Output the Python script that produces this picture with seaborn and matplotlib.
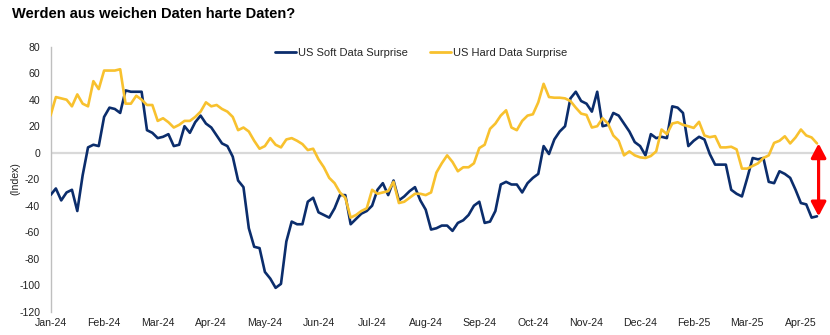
import numpy as np
import pandas as pd
import matplotlib
matplotlib.use("Agg")
import matplotlib.pyplot as plt
import seaborn as sns

# Surprise indices, sampled at a fixed step (10 samples between month labels)
soft_surprise = [
    -32, -27, -36, -30, -28, -44, -17, 4, 6, 5,
    27, 34, 33, 30, 47, 46, 46, 46, 17, 15,
    11, 12, 14, 5, 6, 20, 15, 23, 28, 22,
    19, 13, 7, 5, -3, -21, -26, -57, -71, -72,
    -90, -95, -102, -99, -67, -52, -54, -54, -37, -34,
    -45, -47, -49, -42, -32, -32, -54, -50, -46, -44,
    -40, -28, -23, -32, -21, -36, -33, -29, -26, -36,
    -43, -58, -57, -55, -55, -59, -53, -51, -47, -40,
    -37, -53, -52, -44, -24, -22, -24, -24, -30, -23,
    -19, -16, 5, -1, 10, 16, 20, 41, 46, 39,
    37, 31, 46, 20, 21, 30, 28, 22, 16, 8,
    5, -2, 14, 11, 12, 11, 35, 34, 30, 5,
    9, 12, 10, -1, -9, -9, -9, -28, -31, -33,
    -19, -4, -5, -4, -22, -23, -14, -16, -19, -28,
    -38, -39, -49, -48,
]

hard_surprise = [
    28, 42, 41, 40, 35, 44, 37, 35, 54, 48,
    62, 62, 62, 63, 37, 37, 43, 40, 36, 36,
    24, 26, 23, 19, 21, 24, 24, 27, 31, 38,
    35, 36, 33, 31, 27, 17, 19, 16, 9, 3,
    5, 11, 6, 4, 10, 11, 9, 6.5, 2, 3,
    -5, -11, -19, -23, -30, -34, -49, -47, -44, -42,
    -28, -31, -30, -29, -22, -38, -37, -34, -31, -31,
    -32, -30, -15, -8, -2, -7, -14, -11, -11, -8,
    3.5, 6, 18, 22, 28, 32, 19, 17, 24, 28,
    29, 38, 52, 42, 41.5, 41.5, 41, 39, 34, 29.5,
    28.5, 19, 20, 26, 22, 13, 9, -2, 1, -2,
    -3.5, -4, -2.5, 1, 17.5, 14, 22, 23, 21, 20,
    18.7, 23.3, 13, 11.7, 12.5, 4, 4, 4.5, 2.5, -12,
    -12, -10, -8, -4, -2, 7.4, 9, 12.4, 7, 11.5,
    17.5, 13, 11.5, 7,
]

month_labels = ["Jan-24", "Feb-24", "Mar-24", "Apr-24", "May-24", "Jun-24",
                "Jul-24", "Aug-24", "Sep-24", "Oct-24", "Nov-24", "Dec-24",
                "Feb-25", "Mar-25", "Apr-25"]
label_step = 10

series_names = ["US Soft Data Surprise", "US Hard Data Surprise"]
series_colors = ["#0B2D6C", "#F8C12E"]

n = len(soft_surprise)
df = pd.DataFrame({
    "idx": np.concatenate([np.arange(n), np.arange(n)]),
    "value": soft_surprise + hard_surprise,
    "series": [series_names[0]] * n + [series_names[1]] * n,
})

sns.set_theme(style="white")
plt.rcParams["font.family"] = ["Liberation Sans", "DejaVu Sans"]
plt.rcParams["axes.unicode_minus"] = False

W, H = 830, 335
fig = plt.figure(figsize=(W / 100, H / 100), dpi=100)
x0 = 50.5
px_per_idx = 5.36
xmax = 144
ax = fig.add_axes([x0 / W, 1 - 311.7 / H, xmax * px_per_idx / W, (311.7 - 46.7) / H])

ax.axhline(0, color="#D9D9D9", lw=1.6, zorder=1)
sns.lineplot(data=df, x="idx", y="value", hue="series", palette=series_colors,
             hue_order=series_names, linewidth=1.9, ax=ax, legend=True, zorder=3)

ax.set_xlim(0, xmax)
ax.set_ylim(-120, 80)
ax.set_yticks(np.arange(-120, 81, 20))
ax.set_xticks(np.arange(len(month_labels)) * label_step)
ax.set_xticklabels(month_labels)
ax.tick_params(axis="y", length=0, pad=7.5, labelsize=7.6, colors="#222222")
ax.tick_params(axis="x", length=0, pad=4.5, labelsize=7.6, colors="#222222")
ax.set_xlabel("")
ax.set_ylabel("")
for side in ["top", "right", "bottom"]:
    ax.spines[side].set_visible(False)
ax.spines["left"].set_color("#BFBFBF")
ax.spines["left"].set_linewidth(1.0)

# gap between the two latest readings
x_end = n - 1 + 0.3
ax.annotate("", xy=(x_end, soft_surprise[-1]), xytext=(x_end, hard_surprise[-1]),
            arrowprops=dict(arrowstyle="<|-|>,head_length=0.85,head_width=0.45",
                            color="#FF0000", lw=2.3, mutation_scale=10,
                            shrinkA=0, shrinkB=0), zorder=5)

leg = ax.legend(loc="center", bbox_to_anchor=(421 / W, 1 - 52.7 / H),
                bbox_transform=fig.transFigure, ncol=2, frameon=False,
                fontsize=8, handlelength=1.9, handletextpad=0.15,
                columnspacing=2.0)
for line in leg.get_lines():
    line.set_linewidth(2.0)

fig.text(15 / W, 1 - 179 / H, "(Index)", rotation=90, ha="center", va="center",
         fontsize=7.6, color="#222222")
fig.text(12 / W, 1 - 14 / H, "Werden aus weichen Daten harte Daten?",
         ha="left", va="center", fontsize=10.5, fontweight="bold", color="#000000")

fig.savefig("out.png", dpi=100)
